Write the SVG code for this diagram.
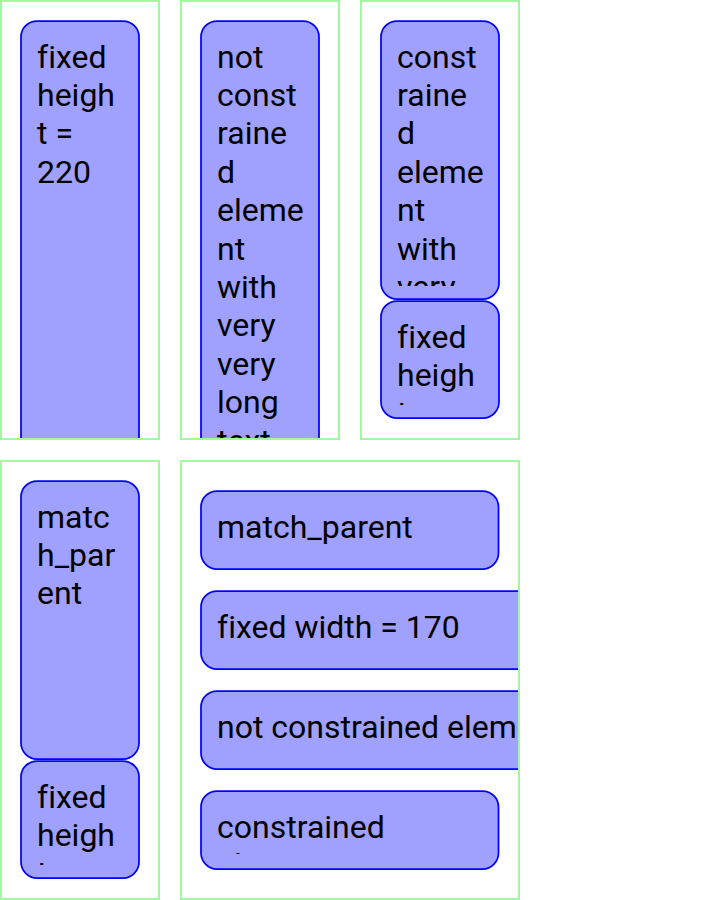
<svg xmlns="http://www.w3.org/2000/svg" width="720" height="900" viewBox="0 0 720 900">
<style>
.panel{fill:none;stroke:#a0f8a0;stroke-width:2}
.node{fill:#a0a0ff;stroke:#0000ff;stroke-width:1.75}
.t{font-family:Roboto,"Noto Sans",sans-serif;font-size:32px;fill:#000;font-variant-ligatures:none}
</style>
<defs>
<clipPath id="cp1"><rect x="0" y="0" width="160" height="440"/></clipPath>
<clipPath id="cp2"><rect x="180" y="0" width="160" height="440"/></clipPath>
<clipPath id="cp3"><rect x="360" y="0" width="160" height="440"/></clipPath>
<clipPath id="cp4"><rect x="0" y="460" width="160" height="440"/></clipPath>
<clipPath id="cp5"><rect x="180" y="460" width="340" height="440"/></clipPath>
<clipPath id="c3a"><rect x="360" y="37" width="160" height="249"/></clipPath>
<clipPath id="c3b"><rect x="360" y="317" width="160" height="88"/></clipPath>
<clipPath id="c4a"><rect x="0" y="497" width="160" height="249"/></clipPath>
<clipPath id="c4b"><rect x="0" y="777" width="160" height="88"/></clipPath>
<clipPath id="c5a"><rect x="180" y="507" width="340" height="49"/></clipPath>
<clipPath id="c5b"><rect x="180" y="607" width="340" height="49"/></clipPath>
<clipPath id="c5c"><rect x="180" y="707" width="340" height="49"/></clipPath>
<clipPath id="c5d"><rect x="180" y="807" width="340" height="47"/></clipPath>
</defs>
<g id="connectors"/>
<g id="panel1">
<g clip-path="url(#cp1)">
<g id="node-fixed-height">
<rect class="node" x="21" y="21" width="118" height="440" rx="16"/>
<text class="t" x="37" y="67.5">fixed</text>
<text class="t" x="37" y="105.9">heigh</text>
<text class="t" x="37" y="144.3">t =</text>
<text class="t" x="37" y="182.7">220</text>
</g>
</g>
<rect class="panel" x="1" y="1" width="158" height="438"/>
</g>
<g id="panel2">
<g clip-path="url(#cp2)">
<g id="node-not-constrained">
<rect class="node" x="201" y="21" width="118" height="520" rx="16"/>
<text class="t" x="217" y="67.5">not</text>
<text class="t" x="217" y="105.9">const</text>
<text class="t" x="217" y="144.3">raine</text>
<text class="t" x="217" y="182.7">d</text>
<text class="t" x="217" y="221.1">eleme</text>
<text class="t" x="217" y="259.5">nt</text>
<text class="t" x="217" y="297.9">with</text>
<text class="t" x="217" y="336.3">very</text>
<text class="t" x="217" y="374.7">very</text>
<text class="t" x="217" y="413.1">long</text>
<text class="t" x="217" y="451.5">text</text>
</g>
</g>
<rect class="panel" x="181" y="1" width="158" height="438"/>
</g>
<g id="panel3">
<g clip-path="url(#cp3)">
<g id="node-constrained">
<rect class="node" x="381" y="21" width="118" height="278" rx="16"/>
<g clip-path="url(#c3a)">
<text class="t" x="397" y="67.5">const</text>
<text class="t" x="397" y="105.9">raine</text>
<text class="t" x="397" y="144.3">d</text>
<text class="t" x="397" y="182.7">eleme</text>
<text class="t" x="397" y="221.1">nt</text>
<text class="t" x="397" y="259.5">with</text>
<text class="t" x="397" y="297.9">very</text>
</g>
</g>
<g id="node-fixed-height-2">
<rect class="node" x="381" y="301" width="118" height="117" rx="16"/>
<g clip-path="url(#c3b)">
<text class="t" x="397" y="347.5">fixed</text>
<text class="t" x="397" y="385.9">heigh</text>
<text class="t" x="397" y="424.3">t</text>
</g>
</g>
</g>
<rect class="panel" x="361" y="1" width="158" height="438"/>
</g>
<g id="panel4">
<g clip-path="url(#cp4)">
<g id="node-match-parent">
<rect class="node" x="21" y="481" width="118" height="278" rx="16"/>
<g clip-path="url(#c4a)">
<text class="t" x="37" y="527.5">matc</text>
<text class="t" x="37" y="565.9">h_par</text>
<text class="t" x="37" y="604.3">ent</text>
</g>
</g>
<g id="node-fixed-height-3">
<rect class="node" x="21" y="761" width="118" height="117" rx="16"/>
<g clip-path="url(#c4b)">
<text class="t" x="37" y="807.5">fixed</text>
<text class="t" x="37" y="845.9">heigh</text>
<text class="t" x="37" y="884.3">t</text>
</g>
</g>
</g>
<rect class="panel" x="1" y="461" width="158" height="438"/>
</g>
<g id="panel5">
<g clip-path="url(#cp5)">
<g id="node-match-parent-h">
<rect class="node" x="201" y="491" width="297.5" height="78" rx="16"/>
<g clip-path="url(#c5a)"><text class="t" x="217" y="537.5">match_parent</text></g>
</g>
<g id="node-fixed-width">
<rect class="node" x="201" y="591" width="340" height="78" rx="16"/>
<g clip-path="url(#c5b)"><text class="t" x="217" y="637.5">fixed width = 170</text></g>
</g>
<g id="node-not-constrained-h">
<rect class="node" x="201" y="691" width="600" height="78" rx="16"/>
<g clip-path="url(#c5c)"><text class="t" x="217" y="737.5">not constrained element with very long text</text></g>
</g>
<g id="node-constrained-h">
<rect class="node" x="201" y="791" width="297.5" height="78" rx="16"/>
<g clip-path="url(#c5d)">
<text class="t" x="217" y="837.5">constrained</text>
<text class="t" x="217" y="875.9">element</text>
</g>
</g>
</g>
<rect class="panel" x="181" y="461" width="338" height="438"/>
</g>
</svg>
